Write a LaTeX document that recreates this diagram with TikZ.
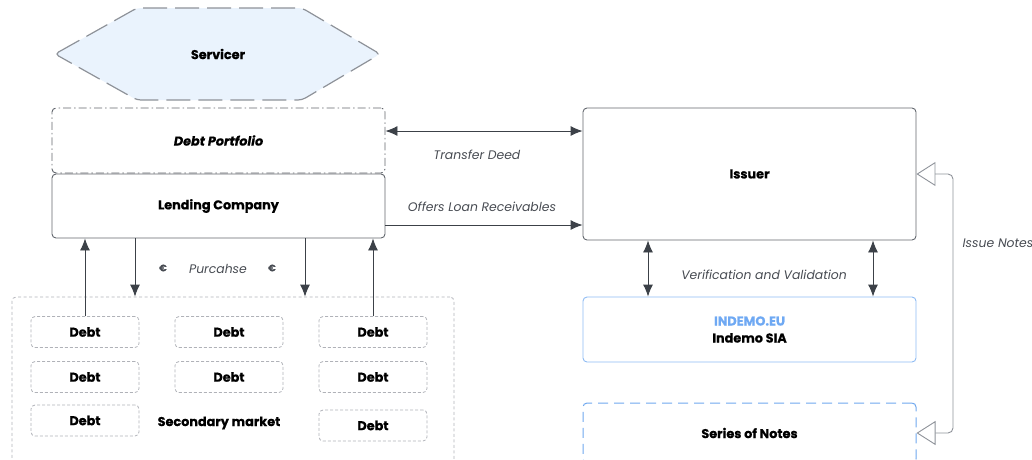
\documentclass[tikz,border=0pt]{standalone}
\usepackage{fontspec}
\setmainfont{Poppins}[BoldFeatures={FakeBold=0.5},BoldItalicFeatures={FakeBold=0.5}]
\usetikzlibrary{arrows.meta,positioning}
\definecolor{boxline}{HTML}{62666D}
\definecolor{arrowc}{HTML}{3C4148}
\definecolor{lightline}{HTML}{B0B2B8}
\definecolor{blueline}{HTML}{8DBBF3}
\definecolor{bluedash}{HTML}{6EA7EE}
\definecolor{bluetext}{HTML}{6FA9F3}
\definecolor{servfill}{HTML}{EAF3FD}
\definecolor{servline}{HTML}{8E9299}
\definecolor{labelc}{HTML}{474B52}
\tikzset{
  bfont/.style={font=\bfseries\fontsize{12.8}{15}\selectfont},
  mainbox/.style={draw=boxline, line width=0.9pt, rounded corners=4pt, inner sep=0pt, bfont},
  debtbox/.style={draw=lightline, line width=0.8pt, dash pattern=on 3pt off 2pt, rounded corners=4pt, minimum width=108pt, minimum height=31pt, inner sep=0pt, bfont},
  flow/.style={draw=arrowc, line width=0.9pt, -{Latex[length=12pt,width=10pt]}},
  flowboth/.style={draw=arrowc, line width=0.9pt, {Latex[length=12pt,width=10pt]}-{Latex[length=12pt,width=10pt]}},
  lbl/.style={font=\itshape\fontsize{12.4}{14}\selectfont, text=labelc, inner sep=0pt},
  opentri/.style={draw=servline, line width=0.9pt, rounded corners=5pt, {Triangle[open,length=19pt,width=24pt]}-{Triangle[open,length=19pt,width=24pt]}}
}
\begin{document}
\begin{tikzpicture}[x=1pt,y=-1pt]
\useasboundingbox (0,0) rectangle (1032,459);
\clip (0,0) rectangle (1032,459);
% Servicer hexagon
\draw[fill=servfill, draw=servline, line width=1.2pt, dash pattern=on 24pt off 8pt, rounded corners=4pt]
  (55,54) -- (137,8) -- (302,8) -- (380,54) -- (302,100) -- (137,100) -- cycle;
\node[bfont] (servicer) at (218,54) {Servicer};
% left boxes
\node[mainbox, dash pattern=on 8pt off 3pt on 1.5pt off 3pt, minimum width=333pt, minimum height=65pt, font=\bfseries\itshape\fontsize{12.8}{15}\selectfont] (portfolio) at (218.5,140.5) {Debt Portfolio};
\node[mainbox, minimum width=333pt, minimum height=64pt] (lending) at (218.5,206) {Lending Company};
% right boxes
\node[mainbox, minimum width=333pt, minimum height=132pt] (issuer) at (749.5,174) {Issuer};
\node[draw=blueline, line width=0.9pt, rounded corners=4pt, minimum width=333pt, minimum height=65pt, inner sep=0pt, align=center, font=\bfseries\fontsize{12.8}{17}\selectfont] (indemo) at (749.5,329.5) {\textcolor{bluetext}{INDEMO.EU}\\Indemo SIA};
\node[draw=bluedash, line width=1pt, dash pattern=on 10pt off 6pt, rounded corners=4pt, minimum width=333pt, minimum height=60pt, inner sep=0pt, bfont] (series) at (749.5,433) {Series of Notes};
% secondary market
\node[draw=lightline, line width=0.8pt, dash pattern=on 3pt off 2.5pt, rounded corners=4pt, minimum width=442pt, minimum height=180pt, inner sep=0pt] (market) at (233,387) {};
\node[bfont] (smlabel) at (219,423) {Secondary market};
\node[debtbox] (d11) at (85,332) {Debt};
\node[debtbox] (d12) at (85,377) {Debt};
\node[debtbox] (d13) at (85,420.5) {Debt};
\node[debtbox] (d21) at (229,332) {Debt};
\node[debtbox] (d22) at (229,377) {Debt};
\node[debtbox] (d31) at (373,332) {Debt};
\node[debtbox] (d32) at (373,377) {Debt};
\node[debtbox] (d33) at (373,425.5) {Debt};
% connectors
\draw[flowboth] (portfolio.east |- 0,131) -- (issuer.west |- 0,131);
\node[lbl] (tdeed) at (477,155) {Transfer Deed};
\draw[flow] (lending.east |- 0,225) -- (issuer.west |- 0,225);
\node[lbl] (offers) at (482,207) {Offers Loan Receivables};
\draw[flowboth] (issuer.south -| 648,0) -- (indemo.north -| 648,0);
\draw[flowboth] (issuer.south -| 873,0) -- (indemo.north -| 873,0);
\node[lbl] (verif) at (764,275) {Verification and Validation};
\coordinate (c1) at (953,174);
\coordinate (c2) at (953,433);
\draw[opentri] (issuer.east) -- (c1) -- (c2) -- (series.east);
\node[lbl] (issue) at (998,243) {Issue Notes};
\draw[flow] (d11.north) -- (d11.north |- lending.south);
\draw[flow] (d31.north) -- (d31.north |- lending.south);
\draw[flow] (lending.south -| 135,0) -- (market.north -| 135,0);
\draw[flow] (lending.south -| 305,0) -- (market.north -| 305,0);
\node[font=\bfseries\fontsize{9.5}{10}\selectfont, text=labelc] (eur1) at (163,268) {€};
\node[font=\bfseries\fontsize{9.5}{10}\selectfont, text=labelc] (eur2) at (272,268) {€};
\node[lbl] (purch) at (218,269) {Purcahse};
\end{tikzpicture}
\end{document}
